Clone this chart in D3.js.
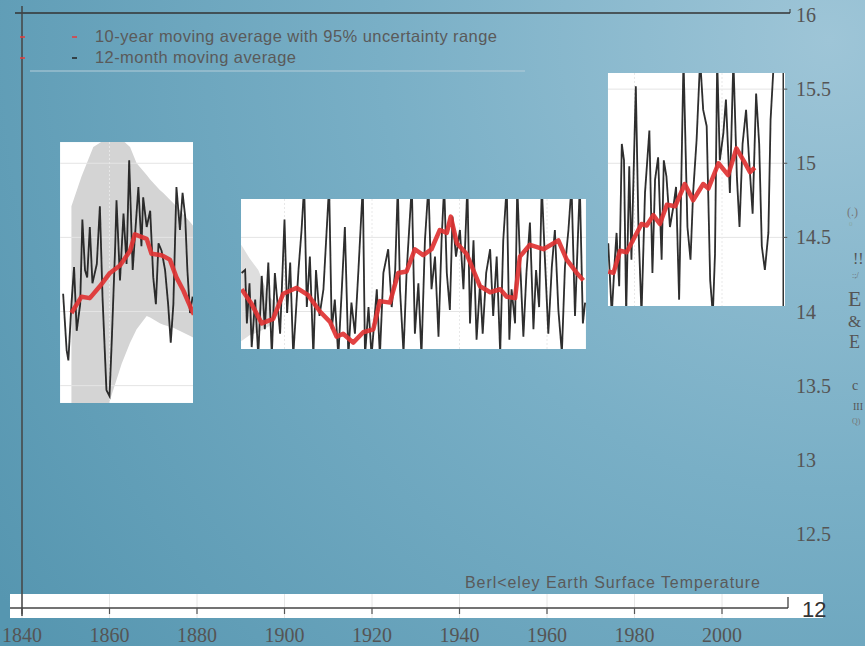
<!DOCTYPE html>
<html>
<head>
<meta charset="utf-8">
<script src="https://cdn.jsdelivr.net/npm/d3@7"></script>
<style>
  html, body { margin: 0; padding: 0; background: #6aa5bd; }
  svg { display: block; }
</style>
</head>
<body>
<div id="chart"></div>
<script>
// axis ticks
var xTicks = [1840, 1860, 1880, 1900, 1920, 1940, 1960, 1980, 2000];
var yTicks = [16, 15.5, 15, 14.5, 14, 13.5, 13, 12.5];
var legendLabels = ["10-year moving average with 95% uncertainty range", "12-month moving average"];
var sourceLabel = "Berl<eley Earth Surface Temperature";

// visible windows of the plot, in [year0, year1, temp0, temp1]
var windows = [
  [1848.7, 1879.1, 13.383, 15.143],
  [1890.06, 1968.9, 13.747, 14.759],
  [1973.9, 2014.4, 14.037, 15.609]
];

// 12-month moving average, [year, temp]
var monthly1850 = [
  [1849.4, 14.12], [1850.2, 13.74], [1850.6, 13.67], [1851.3, 14.05], [1851.9, 14.30],
  [1852.5, 13.87], [1853.3, 14.05], [1853.8, 14.62], [1854.4, 14.28], [1854.9, 14.23],
  [1855.5, 14.57], [1856.1, 14.19], [1857.1, 14.32], [1857.8, 14.71], [1858.4, 14.10],
  [1859.3, 13.47], [1860.0, 13.43], [1860.5, 13.79], [1861.3, 14.44], [1861.6, 14.75],
  [1862.4, 14.21], [1863.2, 14.66], [1863.9, 14.32], [1864.5, 15.02], [1865.3, 14.28],
  [1865.8, 14.50], [1866.6, 14.84], [1867.3, 14.44], [1867.7, 14.77], [1868.5, 14.57],
  [1869.3, 14.68], [1870.0, 14.23], [1870.6, 14.05], [1871.2, 14.46], [1871.9, 14.41],
  [1872.7, 14.28], [1873.4, 14.05], [1874.0, 13.79], [1874.6, 14.05], [1875.3, 14.84],
  [1876.1, 14.55], [1876.7, 14.80], [1877.3, 14.64], [1877.8, 14.28], [1878.4, 13.99],
  [1879.0, 14.10]
];
var monthly1890 = [
  [1890.2, 14.26], [1891.0, 14.28], [1891.4, 13.92], [1892.0, 14.19], [1892.5, 13.76],
  [1893.3, 14.08], [1894.0, 13.70], [1894.8, 14.24], [1895.5, 13.88], [1896.3, 14.33],
  [1897.1, 13.70], [1897.8, 14.26], [1899.0, 13.85], [1900.0, 14.62], [1900.6, 13.99],
  [1901.3, 14.33], [1902.0, 13.70], [1903.2, 14.28], [1903.9, 14.55], [1904.5, 14.85],
  [1905.1, 14.03], [1905.8, 14.37], [1906.6, 13.70], [1907.2, 14.28], [1908.0, 13.97],
  [1908.9, 14.15], [1910.2, 14.85], [1910.8, 13.88], [1911.5, 14.08], [1912.3, 13.70],
  [1913.1, 14.15], [1913.8, 14.57], [1914.6, 13.70], [1915.3, 14.06], [1916.1, 13.85],
  [1916.9, 14.28], [1917.9, 14.85], [1918.4, 13.70], [1919.2, 14.03], [1919.9, 13.70],
  [1921.1, 14.15], [1921.8, 13.70], [1922.6, 14.26], [1923.7, 14.42], [1924.5, 14.03],
  [1925.3, 14.28], [1925.9, 14.85], [1926.4, 14.15], [1927.2, 13.72], [1927.9, 14.26],
  [1929.1, 14.85], [1929.8, 13.85], [1930.6, 14.19], [1931.3, 13.70], [1932.1, 14.48],
  [1932.9, 14.85], [1933.6, 14.15], [1934.4, 14.37], [1935.2, 13.83], [1935.9, 14.48],
  [1936.5, 14.85], [1937.1, 14.26], [1937.8, 14.01], [1938.4, 14.64], [1939.2, 14.37],
  [1940.1, 14.55], [1940.9, 14.15], [1941.8, 14.85], [1942.4, 13.92], [1943.2, 14.48],
  [1943.9, 13.81], [1944.7, 14.19], [1945.3, 13.85], [1946.1, 14.26], [1947.0, 14.42],
  [1947.7, 13.97], [1948.5, 14.37], [1949.3, 13.72], [1950.0, 14.48], [1950.8, 14.85],
  [1951.4, 13.81], [1951.9, 14.15], [1952.7, 13.92], [1953.2, 14.85], [1953.8, 14.37],
  [1954.6, 13.83], [1955.3, 14.26], [1956.1, 14.60], [1956.9, 13.88], [1957.5, 14.28],
  [1958.2, 14.03], [1958.8, 14.85], [1959.5, 14.37], [1960.3, 13.85], [1961.1, 14.30],
  [1961.8, 14.55], [1962.6, 14.01], [1963.4, 13.72], [1964.1, 14.30], [1964.9, 14.55],
  [1965.6, 14.85], [1966.4, 13.97], [1966.9, 14.37], [1967.5, 14.85], [1968.2, 13.92],
  [1968.7, 14.06]
];
var monthly1974 = [
  [1974.0, 14.46], [1974.8, 13.98], [1975.5, 14.35], [1975.9, 14.53], [1976.5, 14.17],
  [1977.1, 15.13], [1977.6, 15.02], [1978.1, 13.98], [1978.8, 14.98], [1979.3, 14.35],
  [1980.3, 15.52], [1980.9, 14.57], [1981.6, 13.98], [1982.4, 14.80], [1983.4, 15.22],
  [1984.1, 14.26], [1984.7, 14.89], [1985.4, 15.04], [1986.2, 14.35], [1986.7, 15.02],
  [1987.3, 14.91], [1988.1, 14.57], [1988.9, 14.71], [1989.5, 14.84], [1990.2, 14.08],
  [1991.2, 15.70], [1992.1, 14.57], [1992.8, 14.35], [1993.4, 14.80], [1994.2, 15.16],
  [1995.0, 15.70], [1995.7, 15.36], [1996.5, 15.25], [1997.3, 14.21], [1997.9, 13.98],
  [1998.4, 14.39], [1998.9, 15.70], [1999.5, 15.02], [2000.3, 15.20], [2000.9, 15.43],
  [2001.8, 14.80], [2002.6, 15.70], [2003.4, 14.91], [2004.0, 14.57], [2004.7, 15.13],
  [2005.5, 15.36], [2006.2, 15.02], [2007.0, 14.66], [2007.8, 15.47], [2008.5, 15.13],
  [2009.1, 14.44], [2009.8, 14.28], [2010.6, 14.53], [2011.1, 15.29], [2011.7, 15.61],
  [2012.5, 15.90]
];

// 10-year moving average, [year, temp]
var decadal1850 = [
  [1851.3, 13.99], [1853.6, 14.10], [1855.5, 14.09], [1857.8, 14.17], [1860.1, 14.26],
  [1862.4, 14.31], [1864.7, 14.41], [1865.8, 14.52], [1868.5, 14.49], [1869.6, 14.39],
  [1871.9, 14.38], [1873.8, 14.35], [1875.3, 14.23], [1876.9, 14.14], [1878.8, 14.01],
  [1879.3, 13.98]
];
var decadal1890 = [
  [1890.2, 14.15], [1892.5, 14.05], [1894.8, 13.92], [1897.4, 13.95], [1899.7, 14.12],
  [1902.8, 14.16], [1905.4, 14.11], [1908.1, 14.00], [1910.4, 13.93], [1911.9, 13.83],
  [1913.4, 13.85], [1915.7, 13.79], [1918.0, 13.86], [1920.3, 13.88], [1921.8, 14.07],
  [1924.1, 14.06], [1926.0, 14.26], [1927.9, 14.27], [1929.8, 14.42], [1931.7, 14.38],
  [1933.6, 14.42], [1935.5, 14.55], [1937.1, 14.53], [1938.0, 14.64], [1939.4, 14.46],
  [1941.6, 14.39], [1944.7, 14.17], [1947.0, 14.13], [1949.3, 14.15], [1950.8, 14.10],
  [1952.7, 14.09], [1953.8, 14.37], [1956.1, 14.45], [1959.2, 14.42], [1962.6, 14.48],
  [1964.5, 14.35], [1966.8, 14.26], [1968.3, 14.21]
];
var decadal1974 = [
  [1974.0, 14.27], [1975.2, 14.26], [1976.7, 14.41], [1978.2, 14.40], [1981.6, 14.59],
  [1982.8, 14.58], [1984.3, 14.65], [1985.8, 14.59], [1987.4, 14.72], [1989.3, 14.71],
  [1991.5, 14.86], [1993.4, 14.75], [1995.7, 14.86], [1996.9, 14.83], [1999.2, 15.00],
  [2001.4, 14.92], [2003.3, 15.10], [2004.9, 15.02], [2006.4, 14.94], [2007.5, 14.97]
];

// 95% uncertainty range, [year, low, high]
var band1850 = [
  [1851.3, 13.30, 14.71], [1853.6, 13.30, 14.91], [1856.3, 13.30, 15.11], [1859.0, 13.30, 15.16],
  [1862.8, 13.65, 15.16], [1864.7, 13.79, 15.11], [1866.2, 13.88, 15.00], [1868.5, 13.97, 14.92],
  [1869.3, 13.96, 14.89], [1871.5, 13.92, 14.82], [1872.3, 13.91, 14.80], [1874.6, 13.89, 14.73],
  [1875.3, 13.88, 14.71], [1878.8, 13.83, 14.59], [1879.3, 13.82, 14.57]
];
var band1890 = [
  [1890.1, 13.80, 14.45], [1892.0, 13.84, 14.36], [1894.0, 13.86, 14.28], [1896.5, 13.90, 14.10],
  [1898.0, 13.96, 14.06]
];

var W = 865, H = 646;
var x = d3.scaleLinear().domain([1840, 2000]).range([22, 722]);
var y = d3.scaleLinear().domain([12, 16]).range([608, 15]);

var svg = d3.select("#chart").append("svg")
  .attr("width", W)
  .attr("height", H);

var defs = svg.append("defs");
var grad = defs.append("radialGradient")
  .attr("id", "bg")
  .attr("gradientUnits", "userSpaceOnUse")
  .attr("cx", 830).attr("cy", 40).attr("r", 1000);
grad.append("stop").attr("offset", "0%").attr("stop-color", "#9ec5d7");
grad.append("stop").attr("offset", "45%").attr("stop-color", "#79afc6");
grad.append("stop").attr("offset", "100%").attr("stop-color", "#5696b0");

var blur = defs.append("filter").attr("id", "soft");
blur.append("feGaussianBlur").attr("stdDeviation", 0.5);

svg.append("rect")
  .attr("width", W).attr("height", H)
  .attr("fill", "url(#bg)");

// the three white chart pieces
var line = d3.line().x(function (d) { return x(d[0]); }).y(function (d) { return y(d[1]); });
var area = d3.area()
  .x(function (d) { return x(d[0]); })
  .y0(function (d) { return y(d[1]); })
  .y1(function (d) { return y(d[2]); });

var series = [
  { band: band1850, monthly: monthly1850, decadal: decadal1850 },
  { band: band1890, monthly: monthly1890, decadal: decadal1890 },
  { band: null, monthly: monthly1974, decadal: decadal1974 }
];

windows.forEach(function (w, i) {
  var x0 = x(w[0]), x1 = x(w[1]), y0 = y(w[3]), y1 = y(w[2]);
  defs.append("clipPath").attr("id", "clip" + i)
    .append("rect")
    .attr("x", x0).attr("y", y0)
    .attr("width", x1 - x0).attr("height", y1 - y0);

  var g = svg.append("g").attr("clip-path", "url(#clip" + i + ")");
  g.append("rect")
    .attr("x", x0).attr("y", y0)
    .attr("width", x1 - x0).attr("height", y1 - y0)
    .attr("fill", "#fff");

  var s = series[i];
  if (s.band) {
    g.append("path").datum(s.band)
      .attr("d", area)
      .attr("fill", i === 0 ? "#d4d4d4" : "#dedede");
  }

  // grid
  g.selectAll(".hg").data(yTicks).enter().append("line")
    .attr("x1", x0).attr("x2", x1)
    .attr("y1", function (d) { return y(d); })
    .attr("y2", function (d) { return y(d); })
    .attr("stroke", "#e4e4e4").attr("stroke-width", 1);
  g.selectAll(".vg").data(xTicks).enter().append("line")
    .attr("y1", y0).attr("y2", y1)
    .attr("x1", function (d) { return x(d); })
    .attr("x2", function (d) { return x(d); })
    .attr("stroke", "#e8e8e8").attr("stroke-dasharray", "2,2");

  g.append("path").datum(s.monthly)
    .attr("d", line)
    .attr("fill", "none")
    .attr("stroke", "#151515")
    .attr("stroke-width", 1.8)
    .attr("stroke-opacity", 0.9)
    .attr("filter", "url(#soft)");

  g.append("path").datum(s.decadal)
    .attr("d", line)
    .attr("fill", "none")
    .attr("stroke", "#e03333")
    .attr("stroke-width", 4.5)
    .attr("stroke-linejoin", "round")
    .attr("stroke-opacity", 0.92);
});

// right frame inside the last piece
var xr = x(2014);
svg.append("line")
  .attr("x1", xr).attr("x2", xr)
  .attr("y1", y(windows[2][3])).attr("y2", y(windows[2][2]))
  .attr("stroke", "#333").attr("stroke-width", 1.5);
svg.selectAll(".rt").data([15.5, 15, 14.5]).enter().append("line")
  .attr("x1", xr).attr("x2", xr + 4)
  .attr("y1", function (d) { return y(d); })
  .attr("y2", function (d) { return y(d); })
  .attr("stroke", "#555");

// top frame line and left axis
svg.append("line")
  .attr("x1", 15).attr("x2", 790)
  .attr("y1", 13).attr("y2", 13)
  .attr("stroke", "#333").attr("stroke-width", 1.5);
svg.append("line")
  .attr("x1", 790).attr("x2", 790)
  .attr("y1", 9).attr("y2", 13)
  .attr("stroke", "#333");

// bottom white strip with the x axis
svg.append("rect")
  .attr("x", 10).attr("y", 594)
  .attr("width", 813).attr("height", 24)
  .attr("fill", "#fff");
svg.selectAll(".bg").data(xTicks).enter().append("line")
  .attr("x1", function (d) { return x(d); })
  .attr("x2", function (d) { return x(d); })
  .attr("y1", 594).attr("y2", 618)
  .attr("stroke", "#e6e6e6");
svg.append("line")
  .attr("x1", 10).attr("x2", 788)
  .attr("y1", 608).attr("y2", 608)
  .attr("stroke", "#444").attr("stroke-width", 1.5);
svg.selectAll(".bt").data(xTicks).enter().append("line")
  .attr("x1", function (d) { return x(d); })
  .attr("x2", function (d) { return x(d); })
  .attr("y1", 608).attr("y2", 614)
  .attr("stroke", "#555").attr("stroke-width", 1.2);
svg.append("line")
  .attr("x1", 788).attr("x2", 788)
  .attr("y1", 597).attr("y2", 608)
  .attr("stroke", "#333").attr("stroke-width", 1.2);
svg.append("text")
  .attr("x", 802).attr("y", 617)
  .attr("font-family", "Liberation Sans, Arial, sans-serif")
  .attr("font-size", 22)
  .attr("fill", "#333")
  .text("12");

svg.append("line")
  .attr("x1", 22).attr("x2", 22)
  .attr("y1", 6).attr("y2", 616)
  .attr("stroke", "#444").attr("stroke-width", 1.5);

// axis labels
svg.selectAll(".xl").data(xTicks).enter().append("text")
  .attr("x", function (d) { return x(d); })
  .attr("y", 642)
  .attr("text-anchor", "middle")
  .attr("font-family", "Liberation Serif, Times New Roman, serif")
  .attr("font-size", 20)
  .attr("fill", "#555")
  .text(function (d) { return d; });

svg.selectAll(".yl").data(yTicks).enter().append("text")
  .attr("x", 796)
  .attr("y", function (d) { return y(d) + 7; })
  .attr("font-family", "Liberation Serif, Times New Roman, serif")
  .attr("font-size", 20)
  .attr("fill", "#555")
  .text(function (d) { return d; });

// legend
var legendColors = ["#e83a3a", "#222"];
var legendWidths = [402, 201];
legendLabels.forEach(function (t, i) {
  var ly = 37 + i * 21;
  svg.append("line")
    .attr("x1", 20).attr("x2", 25).attr("y1", ly).attr("y2", ly)
    .attr("stroke", "#e83a3a").attr("stroke-width", 1.5);
  svg.append("line")
    .attr("x1", 72).attr("x2", 77).attr("y1", ly).attr("y2", ly)
    .attr("stroke", legendColors[i]).attr("stroke-width", 1.5);
  svg.append("text")
    .attr("x", 95).attr("y", ly + 5)
    .attr("font-family", "Liberation Sans, Arial, sans-serif")
    .attr("font-size", 16.5)
    .attr("textLength", legendWidths[i])
    .attr("fill", "#5a5a5a")
    .text(t);
});
svg.append("line")
  .attr("x1", 30).attr("x2", 525)
  .attr("y1", 71).attr("y2", 71)
  .attr("stroke", "#b4cdd9").attr("stroke-width", 1);

svg.append("text")
  .attr("x", 465).attr("y", 588)
  .attr("font-family", "Liberation Sans, Arial, sans-serif")
  .attr("font-size", 16)
  .attr("textLength", 295)
  .attr("fill", "#5a5a5a")
  .text(sourceLabel);

// stray glyphs at the right edge
var glyphs = [
  { t: "(.)", x: 847, y: 216, s: 12, c: "#777" },
  { t: "0", x: 849, y: 226, s: 7, c: "#8aa" },
  { t: "!!", x: 853, y: 264, s: 16, c: "#555" },
  { t: ":;/", x: 852, y: 278, s: 8, c: "#666" },
  { t: "E", x: 848, y: 306, s: 22, c: "#555" },
  { t: "&", x: 848, y: 327, s: 17, c: "#555" },
  { t: "E", x: 849, y: 348, s: 18, c: "#555" },
  { t: "c", x: 852, y: 390, s: 14, c: "#555" },
  { t: "III", x: 853, y: 410, s: 10, c: "#555" },
  { t: "Q)", x: 852, y: 424, s: 8, c: "#777" }
];
svg.selectAll(".gl").data(glyphs).enter().append("text")
  .attr("x", function (d) { return d.x; })
  .attr("y", function (d) { return d.y; })
  .attr("font-family", "Liberation Serif, Times New Roman, serif")
  .attr("font-size", function (d) { return d.s; })
  .attr("fill", function (d) { return d.c; })
  .text(function (d) { return d.t; });
</script>
</body>
</html>
